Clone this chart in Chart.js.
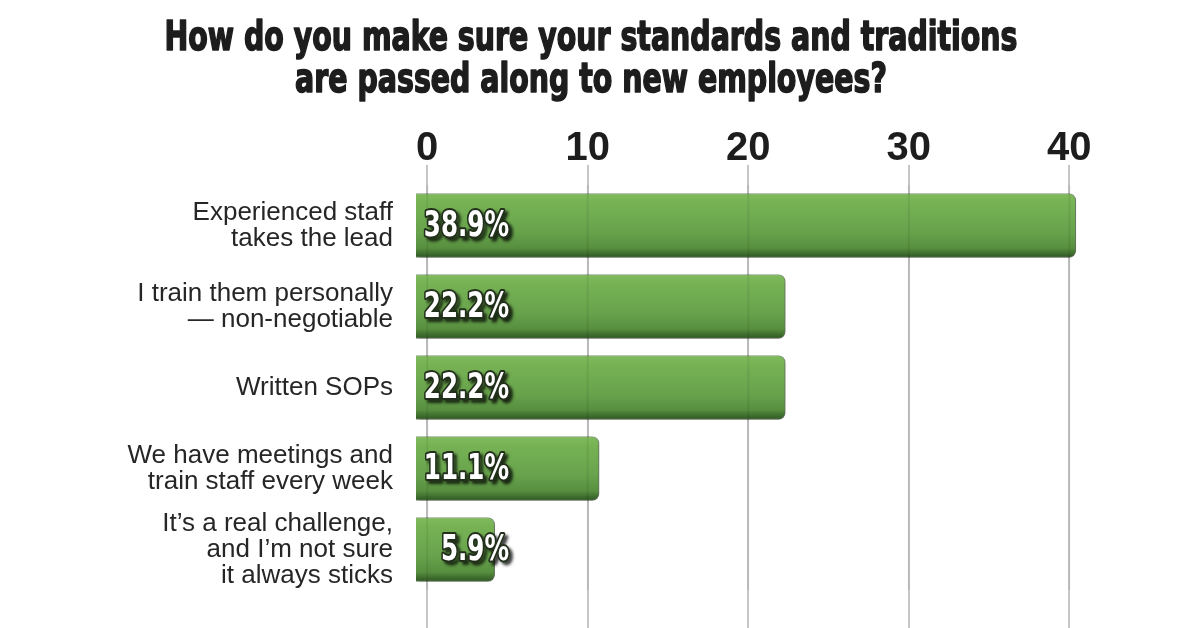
<!DOCTYPE html>
<html>
<head>
<meta charset="utf-8">
<script src="https://cdn.jsdelivr.net/npm/chart.js@4.4.1/dist/chart.umd.min.js"></script>
<style>
  body { margin: 0; background: #fff; }
  #wrap { width: 1200px; height: 628px; }
</style>
</head>
<body>
<div id="wrap"><canvas id="chart-bars"></canvas></div>
<script>
// chart data
var titleLines = ["How do you make sure your standards and traditions", "are passed along to new employees?"];
var categories = [
  ["Experienced staff", "takes the lead"],
  ["I train them personally", "— non-negotiable"],
  ["Written SOPs"],
  ["We have meetings and", "train staff every week"],
  ["It’s a real challenge,", "and I’m not sure", "it always sticks"]
];
var barLengths = [40.4, 22.3, 22.3, 10.7, 4.2];
var valueLabels = ["38.9%", "22.2%", "22.2%", "11.1%", "5.9%"];
var tickValues = [0, 10, 20, 30, 40];

var gridColor = "#c6c6c6";

function setTicks(scale) {
  scale.ticks = tickValues.map(function (v) { return { value: v }; });
}

function barGradient(context) {
  var chart = context.chart;
  if (!chart.chartArea || !chart.scales.y) return "#6aa64e";
  var y = chart.scales.y.getPixelForValue(context.dataIndex);
  var g = chart.ctx.createLinearGradient(0, y - 32, 0, y + 32);
  g.addColorStop(0, "#80bb5c");
  g.addColorStop(0.15, "#76b254");
  g.addColorStop(0.6, "#68a34c");
  g.addColorStop(0.85, "#578f3f");
  g.addColorStop(1, "#2e5622");
  return g;
}

// title drawn condensed
var titlePlugin = {
  id: "condensedTitle",
  afterDraw: function (chart) {
    var ctx = chart.ctx;
    ctx.save();
    ctx.font = 'bold 41px "DejaVu Sans Condensed"';
    ctx.fillStyle = "#1d1d1d";
    ctx.strokeStyle = "#1d1d1d";
    ctx.lineWidth = 1.6;
    ctx.lineJoin = "round";
    ctx.textAlign = "center";
    ctx.textBaseline = "alphabetic";
    var sx = 853 / ctx.measureText(titleLines[0]).width;
    var baselines = [50, 92];
    titleLines.forEach(function (line, i) {
      ctx.save();
      ctx.translate(591, baselines[i]);
      ctx.scale(sx, 1);
      ctx.fillText(line, 0, 0);
      ctx.strokeText(line, 0, 0);
      ctx.restore();
    });
    ctx.restore();
  }
};

// drop shadow under bars, faint grid over bars, value labels
var barDecor = {
  id: "barDecor",
  beforeDatasetsDraw: function (chart) {
    var ctx = chart.ctx;
    ctx.save();
    ctx.shadowColor = "rgba(0,0,0,0.35)";
    ctx.shadowOffsetX = 2;
    ctx.shadowOffsetY = 3;
    ctx.shadowBlur = 4;
  },
  afterDatasetsDraw: function (chart) {
    var ctx = chart.ctx;
    ctx.restore();
    var area = chart.chartArea;
    var xs = chart.scales.x;
    ctx.save();
    ctx.strokeStyle = "rgba(0,0,0,0.07)";
    ctx.lineWidth = 2;
    tickValues.forEach(function (v) {
      var x = xs.getPixelForValue(v);
      ctx.beginPath();
      ctx.moveTo(x, area.top);
      ctx.lineTo(x, area.bottom);
      ctx.stroke();
    });
    ctx.restore();

    var meta = chart.getDatasetMeta(0);
    var rightX = area.left + 93;
    ctx.save();
    ctx.font = 'bold 35px "DejaVu Sans Condensed"';
    ctx.textAlign = "right";
    ctx.textBaseline = "middle";
    ctx.lineJoin = "round";
    meta.data.forEach(function (bar, i) {
      ctx.save();
      ctx.translate(rightX, bar.y + 1);
      ctx.scale(0.78, 1);
      ctx.shadowColor = "rgba(0,0,0,0.75)";
      ctx.shadowOffsetX = 3;
      ctx.shadowOffsetY = 3;
      ctx.shadowBlur = 3;
      ctx.strokeStyle = "#22301b";
      ctx.lineWidth = 4;
      ctx.strokeText(valueLabels[i], 0, 0);
      ctx.shadowColor = "transparent";
      ctx.fillStyle = "#ffffff";
      ctx.fillText(valueLabels[i], 0, 0);
      ctx.restore();
    });
    ctx.restore();
  }
};

var ctx1 = document.getElementById("chart-bars").getContext("2d");

new Chart(ctx1, {
  type: "bar",
  data: {
    labels: categories,
    datasets: [
      {
        data: barLengths,
        base: -0.7,
        backgroundColor: barGradient,
        borderColor: "rgba(45,85,30,0.55)",
        borderWidth: 1,
        borderSkipped: "start",
        borderRadius: { topRight: 7, bottomRight: 7, topLeft: 0, bottomLeft: 0 },
        barThickness: 64
      }
    ]
  },
  plugins: [titlePlugin, barDecor],
  options: {
    indexAxis: "y",
    responsive: true,
    maintainAspectRatio: false,
    animation: false,
    layout: { padding: { top: 105, right: 121, left: 0, bottom: 0 } },
    plugins: {
      legend: { display: false },
      tooltip: { enabled: false }
    },
    scales: {
      x: {
        type: "linear",
        position: "top",
        min: -0.7,
        max: 40.6,
        afterBuildTicks: setTicks,
        afterFit: function (s) { s.height = 80; },
        border: { display: false },
        grid: {
          color: gridColor,
          lineWidth: 2,
          drawTicks: true,
          tickLength: 20
        },
        ticks: {
          padding: 0,
          color: "#1d1d1d",
          font: { size: 40, weight: "bold", family: "Liberation Sans", lineHeight: 0.8 }
        }
      },
      x2: {
        type: "linear",
        position: "bottom",
        min: -0.7,
        max: 40.6,
        afterBuildTicks: setTicks,
        afterFit: function (s) { s.height = 38; s.paddingLeft = 0; s.paddingRight = 0; },
        border: { display: false },
        grid: {
          color: gridColor,
          lineWidth: 2,
          drawOnChartArea: false,
          drawTicks: true,
          tickLength: 38
        },
        ticks: { display: false }
      },
      y: {
        afterFit: function (s) {
          s.width = 416;
          s.paddingTop = 0;
          s.paddingBottom = 0;
        },
        border: { display: false },
        grid: { display: false, drawTicks: false },
        ticks: {
          autoSkip: false,
          padding: 23,
          color: "#262626",
          font: { size: 26, family: "Liberation Sans", lineHeight: 1.0 }
        }
      }
    }
  }
});
</script>
</body>
</html>
